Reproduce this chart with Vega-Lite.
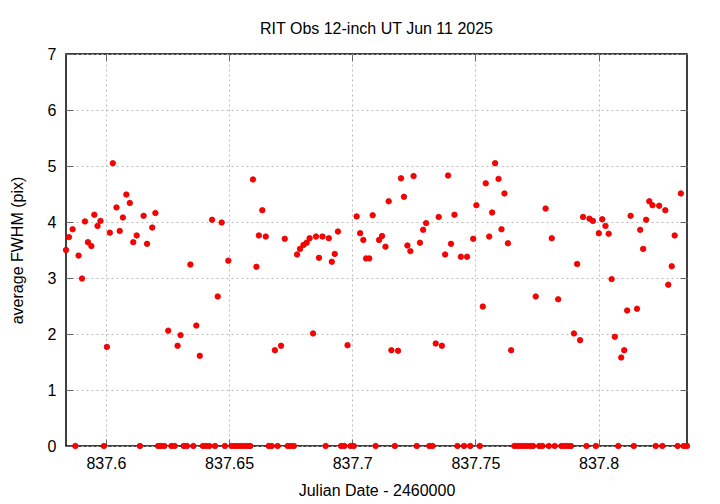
{
  "$schema": "https://vega.github.io/schema/vega-lite/v6.json",
  "width": 621,
  "height": 392,
  "autosize": {"type": "none"},
  "padding": {"left": 66, "top": 54, "right": 33, "bottom": 58},
  "background": "white",
  "title": {"text": "RIT Obs 12-inch UT Jun 11 2025", "font": "Liberation Sans", "fontSize": 16, "fontWeight": "normal", "color": "black", "offset": 9, "anchor": "middle"},
  "config": {
    "view": {"stroke": "black", "strokeWidth": 1.5},
    "axis": {"labelFont": "Liberation Sans", "titleFont": "Liberation Sans", "labelFontSize": 16, "titleFontSize": 16, "titleFontWeight": "normal", "labelColor": "black", "titleColor": "black", "domain": false}
  },
  "data": {"values": [
    {"jd": 837.5838, "fwhm": 3.50}, {"jd": 837.5850, "fwhm": 3.73}, {"jd": 837.5865, "fwhm": 3.87}, {"jd": 837.5876, "fwhm": 0},
    {"jd": 837.5889, "fwhm": 3.40}, {"jd": 837.5903, "fwhm": 2.99}, {"jd": 837.5915, "fwhm": 4.01}, {"jd": 837.5927, "fwhm": 3.64},
    {"jd": 837.5941, "fwhm": 3.57}, {"jd": 837.5953, "fwhm": 4.13}, {"jd": 837.5966, "fwhm": 3.93}, {"jd": 837.5978, "fwhm": 4.02},
    {"jd": 837.5992, "fwhm": 0}, {"jd": 837.6004, "fwhm": 1.77}, {"jd": 837.6016, "fwhm": 3.81}, {"jd": 837.6028, "fwhm": 5.05},
    {"jd": 837.6043, "fwhm": 4.26}, {"jd": 837.6056, "fwhm": 3.84}, {"jd": 837.6069, "fwhm": 4.08}, {"jd": 837.6083, "fwhm": 4.49},
    {"jd": 837.6097, "fwhm": 4.34}, {"jd": 837.6111, "fwhm": 3.64}, {"jd": 837.6125, "fwhm": 3.76}, {"jd": 837.6138, "fwhm": 0},
    {"jd": 837.6153, "fwhm": 4.11}, {"jd": 837.6167, "fwhm": 3.61}, {"jd": 837.6188, "fwhm": 3.90}, {"jd": 837.6201, "fwhm": 4.16},
    {"jd": 837.6212, "fwhm": 0}, {"jd": 837.6224, "fwhm": 0}, {"jd": 837.6237, "fwhm": 0}, {"jd": 837.6253, "fwhm": 2.06},
    {"jd": 837.6266, "fwhm": 0}, {"jd": 837.6279, "fwhm": 0}, {"jd": 837.6291, "fwhm": 1.79}, {"jd": 837.6303, "fwhm": 1.98},
    {"jd": 837.6316, "fwhm": 0}, {"jd": 837.6329, "fwhm": 0}, {"jd": 837.6343, "fwhm": 3.24}, {"jd": 837.6355, "fwhm": 0},
    {"jd": 837.6367, "fwhm": 2.15}, {"jd": 837.6381, "fwhm": 1.61}, {"jd": 837.6394, "fwhm": 0}, {"jd": 837.6407, "fwhm": 0},
    {"jd": 837.6420, "fwhm": 0}, {"jd": 837.6431, "fwhm": 4.04}, {"jd": 837.6443, "fwhm": 0}, {"jd": 837.6454, "fwhm": 2.67},
    {"jd": 837.6470, "fwhm": 3.99}, {"jd": 837.6483, "fwhm": 0}, {"jd": 837.6497, "fwhm": 3.31}, {"jd": 837.6510, "fwhm": 0},
    {"jd": 837.6523, "fwhm": 0}, {"jd": 837.6536, "fwhm": 0}, {"jd": 837.6549, "fwhm": 0}, {"jd": 837.6562, "fwhm": 0},
    {"jd": 837.6575, "fwhm": 0}, {"jd": 837.6586, "fwhm": 0}, {"jd": 837.6597, "fwhm": 4.76}, {"jd": 837.6611, "fwhm": 3.20},
    {"jd": 837.6621, "fwhm": 3.76}, {"jd": 837.6635, "fwhm": 4.21}, {"jd": 837.6649, "fwhm": 3.74}, {"jd": 837.6661, "fwhm": 0},
    {"jd": 837.6673, "fwhm": 0}, {"jd": 837.6686, "fwhm": 1.71}, {"jd": 837.6697, "fwhm": 0}, {"jd": 837.6711, "fwhm": 1.79},
    {"jd": 837.6726, "fwhm": 3.70}, {"jd": 837.6738, "fwhm": 0}, {"jd": 837.6750, "fwhm": 0}, {"jd": 837.6763, "fwhm": 0},
    {"jd": 837.6776, "fwhm": 3.42}, {"jd": 837.6788, "fwhm": 3.52}, {"jd": 837.6802, "fwhm": 3.59}, {"jd": 837.6815, "fwhm": 3.63},
    {"jd": 837.6827, "fwhm": 3.71}, {"jd": 837.6841, "fwhm": 2.01}, {"jd": 837.6853, "fwhm": 3.74}, {"jd": 837.6865, "fwhm": 3.36},
    {"jd": 837.6879, "fwhm": 3.74}, {"jd": 837.6892, "fwhm": 0}, {"jd": 837.6905, "fwhm": 3.71}, {"jd": 837.6917, "fwhm": 3.29},
    {"jd": 837.6929, "fwhm": 3.43}, {"jd": 837.6942, "fwhm": 3.83}, {"jd": 837.6955, "fwhm": 0}, {"jd": 837.6968, "fwhm": 0},
    {"jd": 837.6981, "fwhm": 1.80}, {"jd": 837.6993, "fwhm": 0}, {"jd": 837.7006, "fwhm": 0}, {"jd": 837.7018, "fwhm": 4.10},
    {"jd": 837.7032, "fwhm": 3.80}, {"jd": 837.7045, "fwhm": 3.68}, {"jd": 837.7056, "fwhm": 3.35}, {"jd": 837.7069, "fwhm": 3.35},
    {"jd": 837.7083, "fwhm": 4.12}, {"jd": 837.7095, "fwhm": 0}, {"jd": 837.7109, "fwhm": 3.68}, {"jd": 837.7121, "fwhm": 3.75},
    {"jd": 837.7135, "fwhm": 3.56}, {"jd": 837.7148, "fwhm": 4.37}, {"jd": 837.7159, "fwhm": 1.71}, {"jd": 837.7173, "fwhm": 0},
    {"jd": 837.7186, "fwhm": 1.70}, {"jd": 837.7198, "fwhm": 4.78}, {"jd": 837.7210, "fwhm": 4.45}, {"jd": 837.7224, "fwhm": 3.58},
    {"jd": 837.7236, "fwhm": 3.48}, {"jd": 837.7249, "fwhm": 4.82}, {"jd": 837.7262, "fwhm": 0}, {"jd": 837.7275, "fwhm": 3.63},
    {"jd": 837.7288, "fwhm": 3.86}, {"jd": 837.7300, "fwhm": 3.98}, {"jd": 837.7313, "fwhm": 0}, {"jd": 837.7326, "fwhm": 0},
    {"jd": 837.7339, "fwhm": 1.83}, {"jd": 837.7351, "fwhm": 4.09}, {"jd": 837.7364, "fwhm": 1.79}, {"jd": 837.7377, "fwhm": 3.42},
    {"jd": 837.7389, "fwhm": 4.83}, {"jd": 837.7401, "fwhm": 3.61}, {"jd": 837.7415, "fwhm": 4.13}, {"jd": 837.7427, "fwhm": 0},
    {"jd": 837.7441, "fwhm": 3.38}, {"jd": 837.7454, "fwhm": 0}, {"jd": 837.7466, "fwhm": 3.38}, {"jd": 837.7479, "fwhm": 0},
    {"jd": 837.7491, "fwhm": 3.70}, {"jd": 837.7504, "fwhm": 4.30}, {"jd": 837.7518, "fwhm": 0}, {"jd": 837.7530, "fwhm": 2.49},
    {"jd": 837.7542, "fwhm": 4.69}, {"jd": 837.7556, "fwhm": 3.74}, {"jd": 837.7568, "fwhm": 4.17}, {"jd": 837.7580, "fwhm": 5.05},
    {"jd": 837.7594, "fwhm": 4.77}, {"jd": 837.7606, "fwhm": 3.87}, {"jd": 837.7618, "fwhm": 4.51}, {"jd": 837.7632, "fwhm": 3.62},
    {"jd": 837.7645, "fwhm": 1.71}, {"jd": 837.7658, "fwhm": 0}, {"jd": 837.7671, "fwhm": 0}, {"jd": 837.7684, "fwhm": 0},
    {"jd": 837.7697, "fwhm": 0}, {"jd": 837.7710, "fwhm": 0}, {"jd": 837.7723, "fwhm": 0}, {"jd": 837.7734, "fwhm": 0},
    {"jd": 837.7745, "fwhm": 2.67}, {"jd": 837.7759, "fwhm": 0}, {"jd": 837.7772, "fwhm": 0}, {"jd": 837.7785, "fwhm": 4.24},
    {"jd": 837.7798, "fwhm": 0}, {"jd": 837.7810, "fwhm": 3.71}, {"jd": 837.7822, "fwhm": 0}, {"jd": 837.7836, "fwhm": 2.62},
    {"jd": 837.7849, "fwhm": 0}, {"jd": 837.7862, "fwhm": 0}, {"jd": 837.7875, "fwhm": 0}, {"jd": 837.7888, "fwhm": 0},
    {"jd": 837.7900, "fwhm": 2.01}, {"jd": 837.7913, "fwhm": 3.25}, {"jd": 837.7925, "fwhm": 1.89}, {"jd": 837.7937, "fwhm": 4.09},
    {"jd": 837.7951, "fwhm": 0}, {"jd": 837.7963, "fwhm": 4.06}, {"jd": 837.7977, "fwhm": 4.02}, {"jd": 837.7989, "fwhm": 0},
    {"jd": 837.8001, "fwhm": 3.80}, {"jd": 837.8015, "fwhm": 4.05}, {"jd": 837.8028, "fwhm": 3.93}, {"jd": 837.8041, "fwhm": 3.79},
    {"jd": 837.8053, "fwhm": 2.98}, {"jd": 837.8066, "fwhm": 1.95}, {"jd": 837.8080, "fwhm": 0}, {"jd": 837.8092, "fwhm": 1.58},
    {"jd": 837.8104, "fwhm": 1.71}, {"jd": 837.8116, "fwhm": 2.42}, {"jd": 837.8130, "fwhm": 4.11}, {"jd": 837.8143, "fwhm": 0},
    {"jd": 837.8156, "fwhm": 2.45}, {"jd": 837.8169, "fwhm": 3.86}, {"jd": 837.8181, "fwhm": 3.52}, {"jd": 837.8193, "fwhm": 4.04},
    {"jd": 837.8206, "fwhm": 4.37}, {"jd": 837.8219, "fwhm": 4.30}, {"jd": 837.8232, "fwhm": 0}, {"jd": 837.8246, "fwhm": 4.29},
    {"jd": 837.8259, "fwhm": 0}, {"jd": 837.8271, "fwhm": 4.21}, {"jd": 837.8283, "fwhm": 2.88}, {"jd": 837.8297, "fwhm": 3.21},
    {"jd": 837.8309, "fwhm": 3.76}, {"jd": 837.8321, "fwhm": 0}, {"jd": 837.8334, "fwhm": 4.51}, {"jd": 837.8346, "fwhm": 0},
    {"jd": 837.8359, "fwhm": 0}
  ]},
  "layer": [
    {
      "mark": {"type": "point", "filled": true, "shape": "circle", "size": 30, "color": "#ff0000", "stroke": "#dd0000", "strokeWidth": 0.8, "opacity": 1, "clip": false},
      "encoding": {
        "x": {"field": "jd", "type": "quantitative", "scale": {"domain": [837.5838, 837.8359], "nice": false, "zero": false},
          "axis": {"title": "Julian Date - 2460000", "values": [837.6, 837.65, 837.7, 837.75, 837.8], "format": ".2~f", "grid": true, "gridColor": "#bbbbbb", "gridDash": [2, 3], "gridWidth": 1, "tickColor": "#666666", "tickSize": -7, "labelPadding": 16, "titlePadding": 11, "labelFlush": false}},
        "y": {"field": "fwhm", "type": "quantitative", "scale": {"domain": [0, 7], "nice": false},
          "axis": {"title": "average FWHM (pix)", "values": [0, 1, 2, 3, 4, 5, 6, 7], "grid": true, "gridColor": "#bbbbbb", "gridDash": [2, 3], "gridWidth": 1, "tickColor": "#666666", "tickSize": -7, "labelPadding": 17, "titlePadding": 22}}
      }
    },
    {
      "mark": {"type": "point", "opacity": 0},
      "encoding": {
        "x": {"field": "jd", "type": "quantitative", "scale": {"domain": [837.5838, 837.8359], "nice": false, "zero": false},
          "axis": {"orient": "top", "title": null, "labels": false, "grid": false, "values": [837.6, 837.65, 837.7, 837.75, 837.8], "tickColor": "#666666", "tickSize": -7}},
        "y": {"field": "fwhm", "type": "quantitative", "scale": {"domain": [0, 7], "nice": false},
          "axis": {"orient": "right", "title": null, "labels": false, "grid": false, "values": [0, 1, 2, 3, 4, 5, 6, 7], "tickColor": "#666666", "tickSize": -7}}
      }
    }
  ],
  "resolve": {"axis": {"x": "independent", "y": "independent"}}
}
